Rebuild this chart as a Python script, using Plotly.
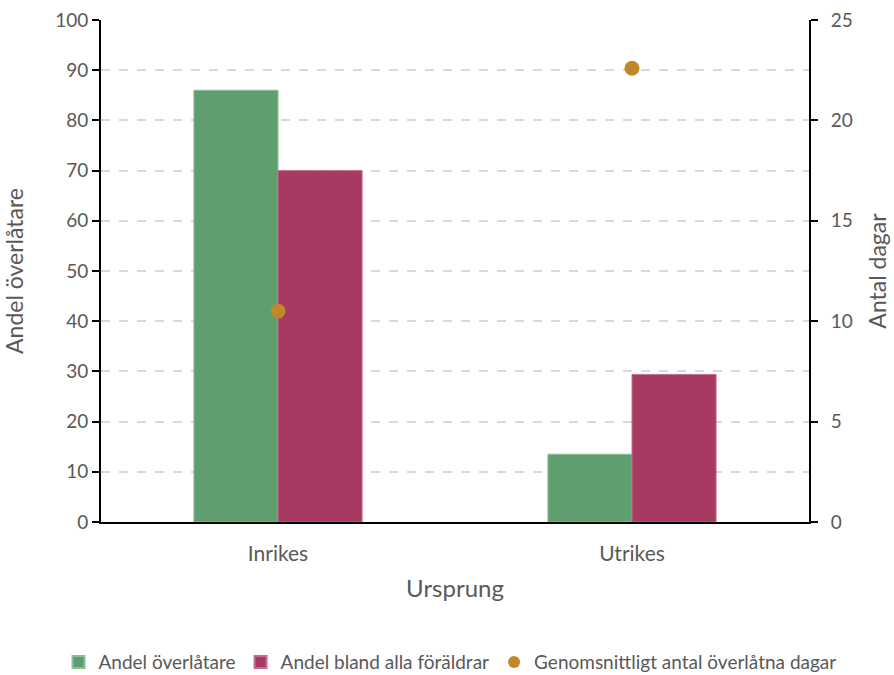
import plotly.graph_objects as go

categories = ["Inrikes", "Utrikes"]
andel_overlatare = [86.0, 13.5]
andel_alla = [70.0, 29.4]
genomsnitt_dagar = [10.5, 22.6]

green = "#5F9E6E"
red = "#A63A63"
gold = "#C0882A"
txt = "#595959"
font_family = "Lato, Open Sans, sans-serif"

fig = go.Figure()
fig.add_trace(go.Bar(x=categories, y=andel_overlatare, name="Andel överlåtare",
                     marker=dict(color=green, line=dict(color="#8BBF97", width=1))))
fig.add_trace(go.Bar(x=categories, y=andel_alla, name="Andel bland alla föräldrar",
                     marker=dict(color=red, line=dict(color="#C46D8E", width=1))))
fig.add_trace(go.Scatter(x=categories, y=genomsnitt_dagar, name="Genomsnittligt antal överlåtna dagar",
                         mode="markers", yaxis="y2",
                         marker=dict(color=gold, size=15)))

fig.update_layout(
    width=894, height=675,
    margin=dict(l=101, r=85, t=20, b=153, autoexpand=False),
    paper_bgcolor="white", plot_bgcolor="white",
    font=dict(family=font_family, color=txt, size=17),
    barmode="group", bargap=0.525, bargroupgap=0,
    showlegend=True,
    legend=dict(orientation="h", x=-0.06, xanchor="left", y=-0.279, yanchor="middle",
                font=dict(size=19, color=txt), tracegroupgap=0,
                itemsizing="constant"),
    xaxis=dict(title=dict(text="Ursprung", font=dict(size=24, color=txt), standoff=16),
               showline=True, linecolor="black", linewidth=2, automargin=False,
               ticks="", ticklabelstandoff=12, tickfont=dict(size=21, color=txt)),
    yaxis=dict(title=dict(text="Andel överlåtare", font=dict(size=23, color=txt), standoff=25),
               range=[0, 100], dtick=10, showline=True, linecolor="black", linewidth=2,
               automargin=False, ticklabeloverflow="allow",
               ticks="outside", ticklen=7, tickcolor="black", tickwidth=2,
               showgrid=True, gridcolor="#D9D9D9", griddash="dash", gridwidth=1.5,
               tickfont=dict(size=19, color=txt), zeroline=False),
    yaxis2=dict(title=dict(text="Antal dagar", font=dict(size=23, color=txt), standoff=18),
                overlaying="y", side="right", range=[0, 25], dtick=5,
                showline=True, linecolor="black", linewidth=2, automargin=False,
                ticklabeloverflow="allow",
                ticks="outside", ticklen=7, tickcolor="black", tickwidth=2,
                ticklabelstandoff=9,
                showgrid=False, zeroline=False, tickfont=dict(size=19, color=txt)),
)

fig.write_html("out.html", config={"displayModeBar": False},
               post_script="document.body.style.margin='0';document.body.style.overflow='hidden';")
